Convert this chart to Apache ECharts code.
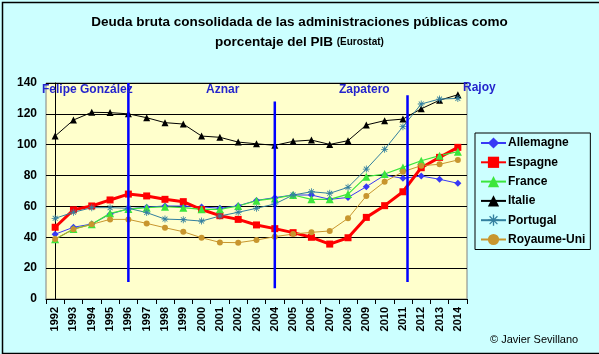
<!DOCTYPE html>
<html><head><meta charset="utf-8">
<script src="https://cdn.jsdelivr.net/npm/echarts@6/dist/echarts.min.js"></script>
<style>html,body{margin:0;padding:0;background:#fff;}#c{width:599px;height:354px;}</style>
</head><body><div id="c"></div>
<script>
const years = ['1992','1993','1994','1995','1996','1997','1998','1999','2000','2001','2002','2003','2004','2005','2006','2007','2008','2009','2010','2011','2012','2013','2014'];
const allemagne = [42.0, 46.5, 48.6, 55.0, 58.5, 59.5, 60.3, 60.2, 59.7, 58.8, 60.4, 63.9, 65.7, 67.4, 67.4, 64.6, 65.8, 72.8, 80.3, 78.2, 79.7, 77.6, 75.0];
const espagne = [46.5, 57.8, 60.3, 64.2, 68.0, 66.8, 64.6, 63.1, 58.0, 54.0, 51.6, 48.0, 45.6, 43.0, 40.0, 35.6, 39.7, 52.9, 60.5, 69.5, 85.1, 91.8, 98.3];
const france = [38.7, 45.4, 48.4, 55.5, 58.3, 59.2, 59.8, 59.2, 58.1, 58.1, 60.3, 63.7, 65.2, 67.4, 64.6, 64.6, 68.0, 79.3, 81.0, 85.3, 89.6, 92.9, 95.5];
const italie = [105.6, 116.0, 121.0, 120.8, 120.0, 117.5, 114.3, 113.4, 105.6, 104.8, 101.7, 100.6, 99.6, 102.2, 103.0, 100.2, 102.6, 112.8, 115.6, 116.6, 123.3, 128.8, 132.4];
const portugal = [52.3, 56.2, 59.2, 59.2, 58.8, 56.0, 51.8, 51.4, 50.5, 53.8, 56.2, 58.8, 61.6, 67.4, 69.5, 68.5, 72.4, 84.2, 97.0, 111.7, 126.4, 129.6, 130.0];
const royaumeUni = [38.9, 45.2, 48.4, 51.6, 51.6, 49.0, 46.2, 43.6, 39.7, 36.7, 36.5, 38.2, 40.4, 42.1, 43.2, 44.1, 52.3, 66.8, 76.0, 82.5, 86.4, 87.3, 90.1];
const yTicks = [0, 20, 40, 60, 80, 100, 120, 140];
// government changes: position (category index), top and bottom values of the marker line
const govNames = ['Felipe González', 'Aznar', 'Zapatero', 'Rajoy'];
const govChangeAt = [4, 12, 19.25];
const govLineTop = [140, 128, 132];
const govLineBottom = [11, 7, 11];

const FONT = "'Liberation Sans', Arial, sans-serif";
const chart = echarts.init(document.getElementById('c'));

const asterisk = 'path://M-0.6,-5L0.6,-5L0.6,5L-0.6,5Z M-5,-0.6L5,-0.6L5,0.6L-5,0.6Z M-3.9,-3.1L-3.1,-3.9L3.9,3.1L3.1,3.9Z M3.1,-3.9L3.9,-3.1L-3.1,3.9L-3.9,3.1Z';

function ser(name, data, color, width, symbol, size) {
  return { name, type: 'line', data, color, symbol, symbolSize: size, showSymbol: true,
    lineStyle: { width, color }, itemStyle: { color }, animation: false, z: 3 };
}

const series = [
  ser('Allemagne', allemagne, '#3838F5', 1, 'diamond', 7),
  ser('Espagne', espagne, '#FF0000', 3, 'rect', 7),
  ser('France', france, '#3CE63C', 1.2, 'triangle', 8),
  ser('Italie', italie, '#000000', 1, 'triangle', 7),
  ser('Portugal', portugal, '#33809F', 1, asterisk, 7),
  ser('Royaume-Uni', royaumeUni, '#C8962E', 1, 'circle', 6)
];
govChangeAt.forEach((p, i) => {
  series.push({ type: 'line', xAxisIndex: 1, yAxisIndex: 0, data: [[p, govLineTop[i]], [p, govLineBottom[i]]],
    symbol: 'none', lineStyle: { color: '#0000FF', width: 2.5 }, silent: true, animation: false, z: 5 });
});

chart.setOption({
  backgroundColor: '#CCFFFF',
  animation: false,
  title: {
    left: 'center', top: 12, padding: 0,
    text: '{a|Deuda bruta consolidada de las administraciones públicas como}\n{a|porcentaje del PIB }{b|(Eurostat)}',
    textStyle: { rich: {
      a: { fontFamily: FONT, fontSize: 13.5, fontWeight: 'bold', color: '#000', lineHeight: 20 },
      b: { fontFamily: FONT, fontSize: 10, color: '#000', lineHeight: 20 }
    } }
  },
  legend: {
    orient: 'vertical', left: 475, top: 133,
    data: ['Allemagne', 'Espagne', 'France', 'Italie', 'Portugal', 'Royaume-Uni'],
    itemWidth: 25, itemHeight: 14, itemGap: 7.3, padding: [4, 5, 4, 5],
    borderColor: '#000', borderWidth: 1, backgroundColor: '#CCFFFF',
    textStyle: { fontFamily: FONT, fontSize: 12, fontWeight: 'bold', color: '#000', padding: [0, 0, 0, -3] }
  },
  grid: { left: 46, top: 83, width: 421, height: 216, show: true, backgroundColor: '#FFFFCC', borderColor: '#808080', borderWidth: 1 },
  xAxis: [{
    type: 'category', data: years, boundaryGap: true,
    axisLine: { lineStyle: { color: '#000', width: 1 } },
    axisTick: { show: true, length: 5, lineStyle: { color: '#000' } },
    axisLabel: { rotate: 90, margin: 8, fontFamily: FONT, fontSize: 11, fontWeight: 'bold', color: '#000', interval: 0 },
    splitLine: { show: false }
  }, {
    type: 'value', min: -0.5, max: 22.5, show: false
  }],
  yAxis: {
    type: 'value', min: yTicks[0], max: yTicks[yTicks.length - 1], interval: 20,
    axisLine: { show: true, lineStyle: { color: '#000' } },
    axisTick: { show: true, length: 5, lineStyle: { color: '#000' } },
    axisLabel: { margin: 9, fontFamily: FONT, fontSize: 12, fontWeight: 'bold', color: '#000' },
    splitLine: { show: true, lineStyle: { color: '#000', width: 1 } }
  },
  series,
  graphic: [
    { type: 'rect', left: 0, top: 0, shape: { width: 598, height: 351 }, style: { fill: 'none', stroke: '#000', lineWidth: 1.5 }, z: 100, silent: true },
    { type: 'text', left: 42, top: 84, style: { text: govNames[0], fontFamily: FONT, fontSize: 12, fontWeight: 'bold', fill: '#2424CC' }, z: 20 },
    { type: 'text', left: 206, top: 84, style: { text: govNames[1], fontFamily: FONT, fontSize: 12, fontWeight: 'bold', fill: '#2424CC' }, z: 20 },
    { type: 'text', left: 339, top: 84, style: { text: govNames[2], fontFamily: FONT, fontSize: 12, fontWeight: 'bold', fill: '#2424CC' }, z: 20 },
    { type: 'text', left: 463, top: 82, style: { text: govNames[3], fontFamily: FONT, fontSize: 12, fontWeight: 'bold', fill: '#2424CC' }, z: 20 },
    { type: 'text', left: 490, top: 334, style: { text: '© Javier Sevillano', fontFamily: FONT, fontSize: 11, fill: '#000' }, z: 20 }
  ]
});
</script>
</body></html>
